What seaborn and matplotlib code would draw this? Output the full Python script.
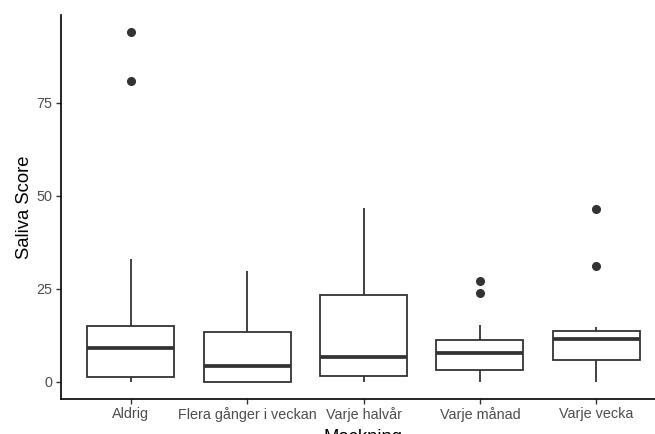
import numpy as np
import pandas as pd
import matplotlib
matplotlib.use("Agg")
import matplotlib.pyplot as plt
import seaborn as sns

# Saliva scores per cleaning frequency group
categories = ["Aldrig", "Flera gånger i veckan", "Varje halvår", "Varje månad", "Varje vecka"]
aldrig = [0, 0.5, 1.0, 1.35, 4, 7, 9.1, 11, 13, 14.9, 32.9, 80.8, 94.1]
flera = [0, 0, 0, 0, 1, 2.5, 4.2, 6, 9, 13.3, 18, 24, 29.8]
halvar = [0, 0.5, 1, 1.6, 3, 5, 6.7, 10, 16, 23.2, 30, 38, 46.8]
manad = [0, 1, 2, 3.1, 5, 6.5, 7.8, 9, 10, 11.1, 15.2, 23.8, 27.1]
vecka = [0, 2, 4, 5.7, 8, 10, 11.5, 12.5, 13, 13.7, 14.6, 31.2, 46.3]
y_ticks = [0, 25, 50, 75]

groups = [aldrig, flera, halvar, manad, vecka]
df = pd.DataFrame({
    "Mockning": np.repeat(categories, [len(g) for g in groups]),
    "Saliva Score": np.concatenate(groups),
})

sns.set_theme(style="white")
plt.rcParams["font.family"] = ["Liberation Sans", "DejaVu Sans"]

fig = plt.figure(figsize=(6.55, 4.34), dpi=100)
ax = fig.add_axes([61 / 655, 35 / 434, (666 - 61) / 655, (419.3 - 35) / 434])

dark = "#333333"
sns.boxplot(
    data=df, x="Mockning", y="Saliva Score", order=categories, ax=ax,
    width=0.75, color="white", linecolor=dark, linewidth=1.3,
    showcaps=False, whis=1.5,
    flierprops=dict(marker="o", markerfacecolor=dark, markeredgecolor=dark, markersize=5.5),
    medianprops=dict(color=dark, linewidth=2.7),
)

ax.set_xlim(-0.6, 4.6)
ax.set_ylim(-4.7, 98.7)
ax.set_yticks(y_ticks)
ax.set_yticklabels([str(t) for t in y_ticks])

for side in ("top", "right"):
    ax.spines[side].set_visible(False)
for side in ("left", "bottom"):
    ax.spines[side].set_color("black")
    ax.spines[side].set_linewidth(1.2)

ax.tick_params(axis="both", which="major", length=3.5, width=1.0, color=dark,
               labelcolor="#4D4D4D", labelsize=10.4, pad=2.5, left=True, bottom=True)
ax.set_ylabel("Saliva Score", fontsize=13.3, color="black", labelpad=3)
ax.set_xlabel("Mockning", fontsize=13.3, color="black", labelpad=5)

fig.savefig("out.png", dpi=100)
